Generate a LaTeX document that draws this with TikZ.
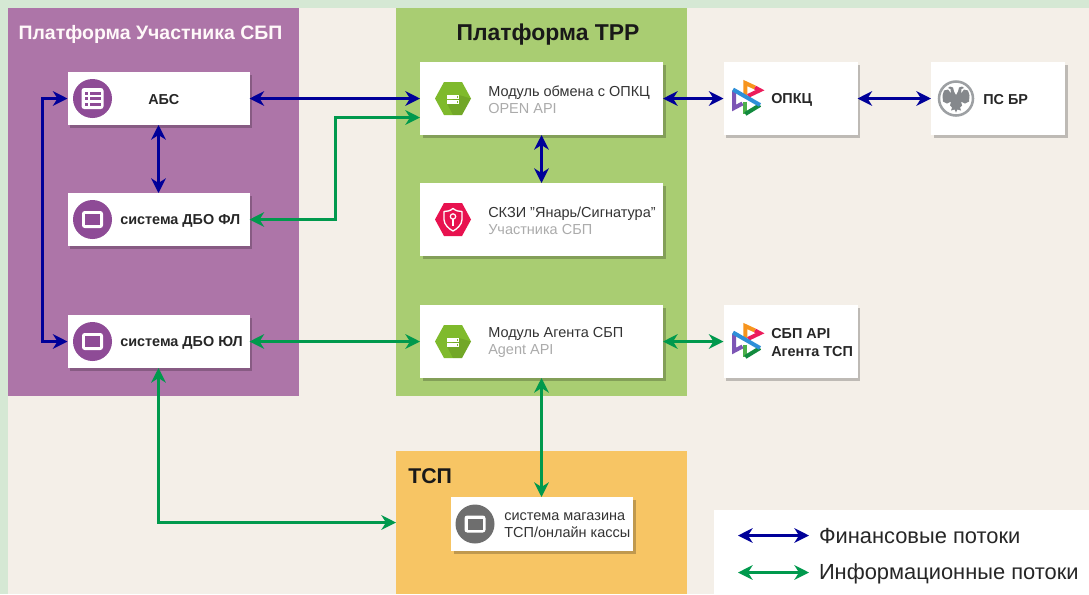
\documentclass[tikz,border=0pt]{standalone}
\usepackage{fontspec}
\setmainfont{Liberation Sans}
\usetikzlibrary{arrows.meta,shadows,positioning}
\definecolor{pagegreen}{HTML}{D5E8D4}
\definecolor{pagebeige}{HTML}{F4EFE8}
\definecolor{platpurple}{HTML}{AD75A8}
\definecolor{platgreen}{HTML}{A9CD72}
\definecolor{platorange}{HTML}{F7C564}
\definecolor{iconpurple}{HTML}{8E4B96}
\definecolor{icongrey}{HTML}{6E6E6E}
\definecolor{hexgreen}{HTML}{7FBA2C}
\definecolor{hexred}{HTML}{E8124F}
\definecolor{finblue}{HTML}{000099}
\definecolor{infgreen}{HTML}{00994D}
\definecolor{textgrey}{HTML}{ABABAB}
\definecolor{eaglegrey}{HTML}{85888C}
\definecolor{logoorange}{HTML}{F7941D}
\definecolor{logopink}{HTML}{EC1C5B}
\definecolor{logoblue}{HTML}{2E8FD8}
\definecolor{logoviolet}{HTML}{7D55B5}
\definecolor{logogreen}{HTML}{4DB04A}
\definecolor{logodark}{HTML}{128A3E}
\tikzset{
  panel/.style={inner sep=0pt,outer sep=0pt},
  wbox/.style={fill=white,inner sep=0pt,outer sep=0pt,
    drop shadow={shadow xshift=1.9pt,shadow yshift=-2.2pt,opacity=.22,fill=black}},
  absbox/.style={wbox,minimum width=136.5pt,minimum height=39.75pt},
  modbox/.style={wbox,minimum width=182.25pt,minimum height=54.75pt},
  extbox/.style={wbox,minimum width=100.5pt,minimum height=54.75pt},
  shopbox/.style={wbox,minimum width=136.5pt,minimum height=40.5pt},
  boldlabel/.style={anchor=west,inner sep=0pt,align=left,text=black!85,font=\fontsize{10.8}{13.4}\selectfont\bfseries},
  modlabel/.style={anchor=west,inner sep=0pt,align=left,text=black!80,font=\fontsize{10.87}{12.9}\selectfont},
  finflow/.style={{Stealth[length=11pt,width=11pt,inset=3.5pt]}-{Stealth[length=11pt,width=11pt,inset=3.5pt]},finblue,line width=1.6pt},
  infflow/.style={{Stealth[length=11pt,width=11pt,inset=3.5pt]}-{Stealth[length=11pt,width=11pt,inset=3.5pt]},infgreen,line width=1.6pt},
  legendtext/.style={anchor=west,inner xsep=7.5pt,inner ysep=0pt,outer sep=0pt,text=black!85,font=\fontsize{16.4}{18}\selectfont},
  listicon/.pic={
    \fill[iconpurple] (0,0) circle (19.5);
    \fill[white,rounded corners=2pt] (-11,-10.5) rectangle (11,10.5);
    \foreach \y in {-7,-1.5,4}{
      \fill[iconpurple] (-8,\y) rectangle (-4.5,\y+3);
      \fill[iconpurple] (-2.5,\y) rectangle (8,\y+3);
    }
  },
  winicon/.pic={
    \fill[#1] (0,0) circle (19.5);
    \fill[white,rounded corners=2pt] (-10.5,-8.5) rectangle (10.5,8.5);
    \fill[#1] (-7.5,-5.5) rectangle (7.5,5.5);
  },
  hexshape/.pic={
    \fill[#1] (-18,0) -- (-9,-16.5) -- (9,-16.5) -- (18,0) -- (9,16.5) -- (-9,16.5) -- cycle;
  },
  servericon/.pic={
    \pic {hexshape=hexgreen};
    \fill[black,opacity=.1] (6,-3.5) -- (18,0) -- (9,16.5) -- (0,16.5) -- (-6,5) -- cycle;
    \foreach \y in {-3.5,1.5}{
      \fill[white] (-6,\y) rectangle (6,\y+3.5);
      \fill[hexgreen] (3.5,\y+1) rectangle (5,\y+2.5);
    }
  },
  shieldicon/.pic={
    \pic {hexshape=hexred};
    \draw[white,line width=1pt,line join=round] (0,-11) .. controls (3,-8.5) and (6,-8) .. (9,-8)
      -- (9,0) .. controls (9,5) and (4,9.5) .. (0,11.5) .. controls (-4,9.5) and (-9,5) .. (-9,0)
      -- (-9,-8) .. controls (-6,-8) and (-3,-8.5) .. cycle;
    \draw[white,line width=.9pt] (0,-3) circle (2.7);
    \draw[white,line width=1.1pt] (0,-.3) -- (0,6);
  },
  sbplogo/.pic={
    \begin{scope}[line width=3pt,line join=miter,line cap=butt]
      \draw[logoorange] (-1.7,-1) -- (-1.7,-15.5) -- (8,-11);
      \draw[logopink] (8,-11) -- (13,-8.3) -- (1,-2.6);
      \draw[logogreen] (-1.7,3) -- (-1.7,15.5);
      \draw[logodark] (-1.7,15.5) -- (13,6.5);
      \draw[logoviolet] (-13,-8) -- (-13,9.5) -- (-4.5,5);
      \draw[logoblue] (-14,-9) -- (13,6.5);
    \end{scope}
  },
  eaglelogo/.pic={
    \draw[eaglegrey!80,line width=1.9pt] (0,0) circle (17);
    \foreach \s in {1,-1}{
      \begin{scope}[xscale=\s]
        \fill[eaglegrey] (-.2,-3) -- (2,-7) -- (3,-11) -- (6,-12) -- (8,-10.5) -- (5.5,-9.5) -- (5,-5)
          -- (8,-9) -- (12,-8) -- (13.5,-3) -- (13,3) -- (9,5) -- (5,3) -- (6,7) -- (4,9) -- (5,12)
          -- (1.5,11) -- (-.2,14) -- cycle;
      \end{scope}
    }
  }
}
\begin{document}
\begin{tikzpicture}[x=0.75pt,y=-0.75pt,node distance=90.75pt]
    \useasboundingbox (0,0) rectangle (1089,594);
    % background
    \fill[pagegreen] (0,0) rectangle (1089,594);
    \fill[pagebeige] (8,8) rectangle (1089,594);

    % platforms
    \node[panel,fill=platpurple,minimum width=218.25pt,minimum height=291pt] (uchastnik) at (153.5,202) {};
    \node[panel,fill=platgreen,minimum width=218.25pt,minimum height=291pt] (trr) at (541.5,202) {};
    \node[panel,fill=platorange,minimum width=218.25pt,minimum height=107.25pt] (tsp) at (541.5,522.5) {};
    \node[panel,fill=white,minimum width=281.25pt,minimum height=63pt] (legend) at (901.5,552) {};
    \node[inner sep=0pt,text=white!90!pink,font=\fontsize{14.6}{16}\selectfont\bfseries] (uchastniktitle) at (150.5,34) {Платформа Участника СБП};
    \node[inner sep=0pt,text=black!90,font=\fontsize{17.2}{19}\selectfont\bfseries] (trrtitle) at (548,35) {Платформа ТРР};
    \node[anchor=west,inner sep=0pt,text=black!90,font=\fontsize{16}{18}\selectfont\bfseries] (tsptitle) at (408,476) {ТСП};

    % boxes
    \node[absbox] (abs) at (158.5,98.5) {};
    \node[absbox] (dbofl) [below of=abs] {};
    \node[absbox] (dboul) at (158.5,341.5) {};
    \node[modbox] (opkcmod) at (541.5,98.5) {};
    \node[modbox] (skzi) [below of=opkcmod] {};
    \node[modbox] (agentmod) at (541.5,341.5) {};
    \node[extbox] (opkc) at (790.5,98.5) {};
    \node[extbox] (psbr) at (998,98.5) {};
    \node[extbox] (sbpapi) at (790.5,341.5) {};
    \node[shopbox] (shop) at (542,524) {};

    % icons
    \pic at (92.5,98.5) {listicon};
    \pic at (92.5,219.5) {winicon=iconpurple};
    \pic at (92.5,341.5) {winicon=iconpurple};
    \pic at (475,524) {winicon=icongrey};
    \pic at (453,98.5) {servericon};
    \pic at (453,219.5) {shieldicon};
    \pic at (453,341.5) {servericon};
    \pic at (747,98.5) {sbplogo};
    \pic at (747,341.5) {sbplogo};
    \pic at (956,98.5) {eaglelogo};

    % labels
    \node[boldlabel] (abslabel) at (148,99.5) {АБС};
    \node[boldlabel] (dbofllabel) at (120,221) {система ДБО ФЛ};
    \node[boldlabel] (dboullabel) at (120,342.5) {система ДБО ЮЛ};
    \node[boldlabel] (opkclabel) at (771,99.5) {ОПКЦ};
    \node[boldlabel] (psbrlabel) at (983,99.5) {ПС БР};
    \node[boldlabel] (sbpapilabel) at (771,342.5) {СБП API\\Агента ТСП};
    \node[modlabel] (opkcmodlabel) at (488,100) {Модуль обмена с ОПКЦ\\{\color{textgrey}OPEN API}};
    \node[modlabel] (skzilabel) at (488,221) {СКЗИ "Янарь/Сигнатура"\\{\color{textgrey}Участника СБП}};
    \node[modlabel] (agentmodlabel) at (488,342.5) {Модуль Агента СБП\\{\color{textgrey}Agent API}};
    \node[modlabel] (shoplabel) at (504,525) {система магазина\\ТСП/онлайн кассы};

    % financial flows
    \draw [finflow] (abs.east) -- (opkcmod.west);
    \draw [finflow] (abs.south) -- (dbofl.north);
    \draw [finflow] (abs.west) -- ++(-25,0) |- (dboul.west);
    \draw [finflow] (opkcmod.south) -- (skzi.north);
    \draw [finflow] (opkcmod.east) -- (opkc.west);
    \draw [finflow] (opkc.east) -- (psbr.west);

    % information flows
    \draw [infflow] (dbofl.east) -- ++(86,0) |- ([yshift=-14.25pt]opkcmod.west);
    \draw [infflow] (dboul.east) -- (agentmod.west);
    \draw [infflow] (agentmod.east) -- (sbpapi.west);
    \draw [infflow] (agentmod.south) -- (shop.north -| agentmod.south);
    \draw [infflow] (dboul.south) |- (tsp.west);

    % legend
    \coordinate (finstart) at (738,535.5);
    \coordinate (infstart) at (738,572.5);
    \node[legendtext] (finlabel) at (809,536) {Финансовые потоки};
    \node[legendtext] (inflabel) at (809,573.5) {Информационные потоки};
    \draw [finflow] (finstart) -- (finstart -| finlabel.west);
    \draw [infflow] (infstart) -- (infstart -| inflabel.west);
\end{tikzpicture}
\end{document}
